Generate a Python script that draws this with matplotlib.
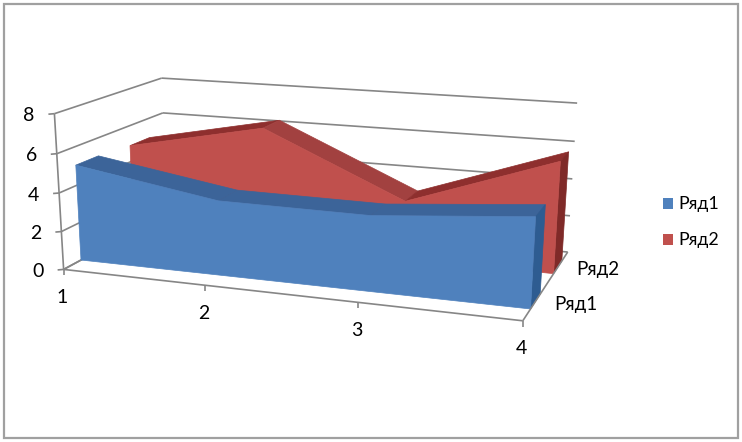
import numpy as np
import matplotlib
matplotlib.use("Agg")
import matplotlib.pyplot as plt
from matplotlib.patches import Polygon, Rectangle

plt.rcParams['font.family'] = ['Lato', 'DejaVu Sans']

categories = [1, 2, 3, 4]
series_names = ['Ряд1', 'Ряд2']
ryad1 = [5.05, 3.85, 3.8, 4.45]
ryad2 = [4.9, 6.4, 3.1, 5.8]
y_ticks = [0, 2, 4, 6, 8]

# Camera: fitted from where the plot box corners fall in the picture
box = [(1, 0, 0), (1, 0, 8), (4, 0, 0), (4, 2, 0), (4, 2, 8), (1, 2, 0), (1, 2, 8), (1, 0, 4), (4, 2, 4)]
pix = [(63, 268), (55, 115), (523, 322), (567, 251), (577, 104), (167, 216), (161, 77), (59, 192), (573, 178)]
A = []
for (X, S, Z), (u, v) in zip(box, pix):
    A.append([X, S, Z, 1, 0, 0, 0, 0, -u * X, -u * S, -u * Z, -u])
    A.append([0, 0, 0, 0, X, S, Z, 1, -v * X, -v * S, -v * Z, -v])
P = np.linalg.svd(np.array(A, float))[2][-1].reshape(3, 4)


def proj(x, s, z):
    h = P @ np.array([x, s, z, 1.0])
    return h[0] / h[2], h[1] / h[2]


fig = plt.figure(figsize=(7.42, 4.42), dpi=100)
ax = fig.add_axes([0, 0, 1, 1])
ax.set_xlim(0, 742)
ax.set_ylim(442, 0)
ax.axis('off')

ax.add_patch(Rectangle((4, 4), 734, 434, fc='white', ec='#a0a0a0', lw=1.6, zorder=0))

GRID = '#868686'


def line(p, q, z=1):
    ax.plot([p[0], q[0]], [p[1], q[1]], color=GRID, lw=1.2, zorder=z, solid_capstyle='butt')


xmin, xmax = categories[0], categories[-1]
for t in y_ticks:
    line(proj(xmin, 0, t), proj(xmin, 2, t))
    line(proj(xmin, 2, t), proj(xmax, 2, t))
    a = proj(xmin, 0, t)
    line((a[0] - 6, a[1] + 0.5), a)
    ax.text(a[0] - 20, a[1] + 2, str(t), ha='right', va='center', fontsize=14, color='black', zorder=10)
line(proj(xmin, 0, 0), proj(xmin, 0, 8))
line(proj(xmin, 0, 0), proj(xmax, 0, 0), 6)
line(proj(xmax, 0, 0), proj(xmax, 2, 0), 6)
line(proj(xmin, 0, 0), proj(xmin, 2, 0))

for c in categories:
    a = proj(c, 0, 0)
    line(a, (a[0], a[1] + 6), 6)
    ax.text(a[0] - 1.5, a[1] + 28, str(c), ha='center', va='center', fontsize=14, zorder=10)
a = proj(xmax, 0.5, 0)
ax.text(a[0] + 19, a[1] + 3, series_names[0], ha='left', va='center', fontsize=13.5, zorder=10)
a = proj(xmax, 1.5, 0)
ax.text(a[0] + 18, a[1] + 2, series_names[1], ha='left', va='center', fontsize=13.5, zorder=10)


def poly(pts, color, z):
    ax.add_patch(Polygon(pts, closed=True, fc=color, ec=color, lw=0.5, zorder=z))


def area(values, s0, s1, front, tops, side, z):
    for i in range(len(categories) - 1):
        poly([proj(categories[i], s0, values[i]), proj(categories[i + 1], s0, values[i + 1]),
              proj(categories[i + 1], s1, values[i + 1]), proj(categories[i], s1, values[i])], tops[i], z)
    poly([proj(xmax, s0, 0), proj(xmax, s1, 0), proj(xmax, s1, values[-1]), proj(xmax, s0, values[-1])], side, z)
    outline = [proj(c, s0, v) for c, v in zip(categories, values)] + [proj(xmax, s0, 0), proj(xmin, s0, 0)]
    poly(outline, front, z + 0.5)


area(ryad2, 1.3, 1.7, '#C0504D', ['#8E2F2E', '#A24140', '#8E2F2E'], '#7F2A28', 2)
area(ryad1, 0.3, 0.7, '#4F81BD', ['#3C6499', '#3C6499', '#3C6499'], '#2E5C91', 4)

for y, name, col in zip([203, 239], series_names, ['#4F81BD', '#C0504D']):
    ax.add_patch(Rectangle((662.5, y - 5), 10.5, 10.5, fc=col, ec='none', zorder=10))
    ax.text(678, y + 0.5, name, ha='left', va='center', fontsize=12.8, zorder=10)

fig.savefig('out.png', dpi=100)
